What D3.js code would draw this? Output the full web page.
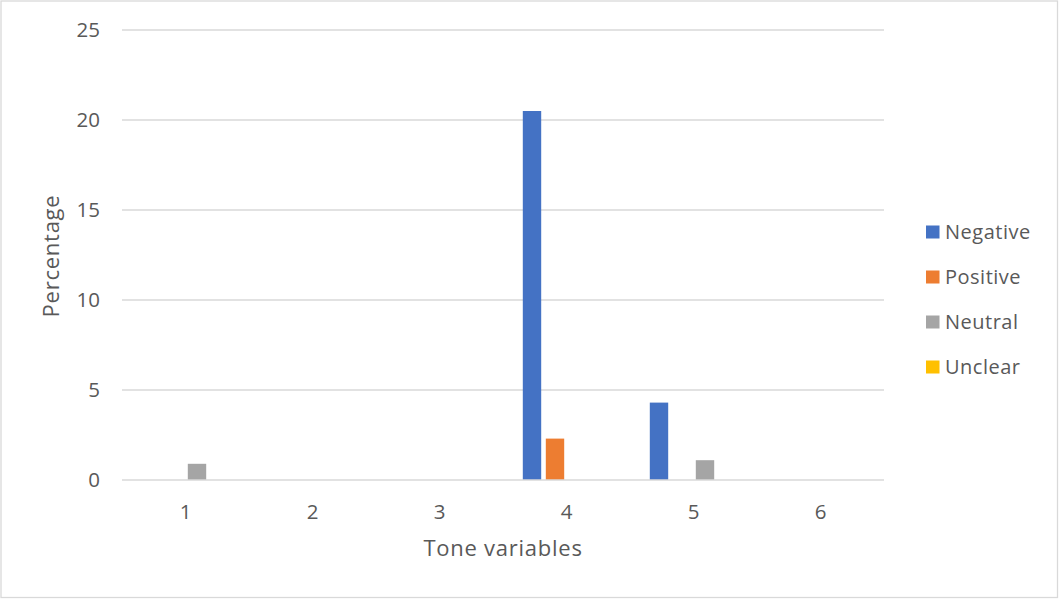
<!DOCTYPE html>
<html>
<head>
<meta charset="utf-8">
<script src="https://cdn.jsdelivr.net/npm/d3@7"></script>
<style>
  html, body { margin: 0; padding: 0; background: #fff; }
  svg { display: block; font-family: "Open Sans", Lato, "Liberation Sans", sans-serif; }
</style>
</head>
<body>
<svg id="chart" width="1059" height="599"></svg>
<script>
// Tone categories and percentage per tone type
const categories = ["1", "2", "3", "4", "5", "6"];
const seriesNames = ["Negative", "Positive", "Neutral", "Unclear"];
const negative = [0, 0, 0, 20.5, 4.3, 0];
const positive = [0, 0, 0, 2.3, 0, 0];
const neutral  = [0.9, 0, 0, 0, 1.1, 0];
const unclear  = [0, 0, 0, 0, 0, 0];
const yTicks = [0, 5, 10, 15, 20, 25];
const colors = ["#4472C4", "#ED7D31", "#A5A5A5", "#FFC000"];

const seriesValues = [negative, positive, neutral, unclear];

const svg = d3.select("#chart");
const W = 1059, H = 599;
const plot = { left: 122, right: 884, top: 30, bottom: 480 };
const textColor = "#595959";
const gridColor = "#d9d9d9";
const fontFamily = "'Open Sans', Lato, sans-serif";

// outer frame
svg.append("rect")
  .attr("x", 1).attr("y", 1)
  .attr("width", W - 2.5).attr("height", H - 2.5)
  .attr("fill", "#fff")
  .attr("stroke", gridColor).attr("stroke-width", 1.3);

const x0 = d3.scaleBand()
  .domain(categories)
  .range([plot.left, plot.right])
  .paddingInner(0.2756)
  .paddingOuter(0.1378);

const x1 = d3.scaleBand()
  .domain(seriesNames)
  .range([0, x0.bandwidth()])
  .paddingInner(0.2)
  .paddingOuter(0.1);

const y = d3.scaleLinear().domain([0, 25]).range([plot.bottom, plot.top]);

// gridlines
svg.append("g")
  .selectAll("line")
  .data(yTicks.filter(d => d > 0))
  .join("line")
  .attr("x1", plot.left).attr("x2", plot.right)
  .attr("y1", d => y(d)).attr("y2", d => y(d))
  .attr("stroke", gridColor).attr("stroke-width", 1.3);

// y tick labels
const yAxis = svg.append("g")
  .attr("transform", `translate(${plot.left},0)`)
  .call(d3.axisLeft(y).tickValues(yTicks).tickSize(0).tickPadding(22));
yAxis.select(".domain").remove();
yAxis.selectAll("text")
  .attr("fill", textColor)
  .style("font-size", "20.5px")
  .style("font-family", fontFamily);

// bars
const rows = categories.map((c, i) => ({
  cat: c,
  vals: seriesNames.map((s, j) => ({ series: s, value: seriesValues[j][i], color: colors[j] }))
}));

svg.append("g")
  .selectAll("g")
  .data(rows)
  .join("g")
  .attr("transform", d => `translate(${x0(d.cat)},0)`)
  .selectAll("rect")
  .data(d => d.vals.filter(v => v.value > 0))
  .join("rect")
  .attr("x", d => x1(d.series))
  .attr("width", x1.bandwidth())
  .attr("y", d => y(d.value))
  .attr("height", d => y(0) - y(d.value))
  .attr("fill", d => d.color);

// baseline
svg.append("line")
  .attr("x1", plot.left).attr("x2", plot.right)
  .attr("y1", y(0)).attr("y2", y(0))
  .attr("stroke", gridColor).attr("stroke-width", 1.5);

// x tick labels
const xAxis = svg.append("g")
  .attr("transform", `translate(0,${plot.bottom})`)
  .call(d3.axisBottom(x0).tickSize(0));
xAxis.select(".domain").remove();
xAxis.selectAll("text")
  .attr("y", 38.5)
  .attr("dy", 0)
  .attr("fill", textColor)
  .style("font-size", "20.5px")
  .style("font-family", fontFamily);

// axis titles
svg.append("text")
  .attr("x", 503)
  .attr("y", 556)
  .attr("text-anchor", "middle")
  .attr("fill", textColor)
  .style("font-size", "22px")
  .style("letter-spacing", "0.75px")
  .text("Tone variables");

svg.append("text")
  .attr("transform", `translate(59,${(plot.top + plot.bottom) / 2 + 1}) rotate(-90)`)
  .attr("text-anchor", "middle")
  .attr("fill", textColor)
  .style("font-size", "22px")
  .style("letter-spacing", "0.75px")
  .text("Percentage");

// legend
const legend = svg.append("g")
  .selectAll("g")
  .data(seriesNames)
  .join("g")
  .attr("transform", (d, i) => `translate(926,${232 + i * 45})`);

legend.append("rect")
  .attr("x", 0).attr("y", -6.5)
  .attr("width", 13.5).attr("height", 13)
  .attr("fill", (d, i) => colors[i]);

legend.append("text")
  .attr("x", 19).attr("y", 0)
  .attr("dy", "0.36em")
  .attr("fill", textColor)
  .style("font-size", "20px")
  .style("letter-spacing", "0.5px")
  .text(d => d);
</script>
</body>
</html>
